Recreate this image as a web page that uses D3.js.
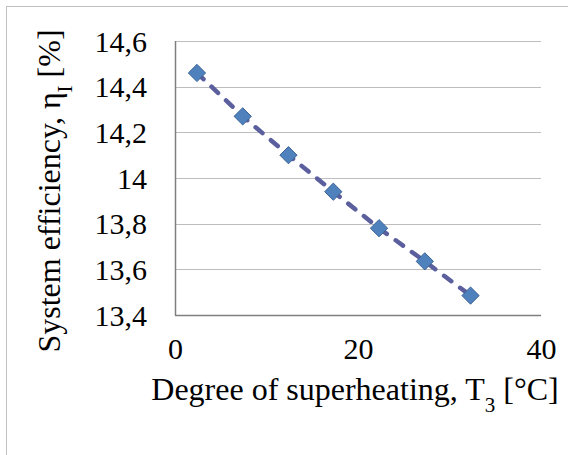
<!DOCTYPE html>
<html>
<head>
<meta charset="utf-8">
<script src="https://cdn.jsdelivr.net/npm/d3@7"></script>
<style>
  html, body { margin: 0; padding: 0; background: #fff; overflow: hidden; }
  svg { display: block; }
  svg text { font-family: "Liberation Serif", "Times New Roman", serif; fill: #000; }
</style>
</head>
<body>
<div id="chart"></div>
<script>
// data
const superheat = [2.4, 7.4, 12.4, 17.3, 22.3, 27.3, 32.3];
const efficiency = [14.46, 14.27, 14.10, 13.94, 13.78, 13.635, 13.485];
const xTicks = [0, 20, 40];
const yTicks = [13.4, 13.6, 13.8, 14.0, 14.2, 14.4, 14.6];

const width = 568, height = 455;
const margin = {top: 41, right: 27, bottom: 140, left: 175};
const innerWidth = width - margin.left - margin.right;
const innerHeight = height - margin.top - margin.bottom;
const serif = '"Liberation Serif", "Times New Roman", serif';

const svg = d3.select('#chart').append('svg')
    .attr('width', width)
    .attr('height', height);

// outer chart border (runs off the right and bottom edges)
svg.append('rect')
    .attr('x', 6.5).attr('y', 6.5)
    .attr('width', width).attr('height', height)
    .attr('fill', 'none')
    .attr('stroke', '#c0c0c0')
    .attr('stroke-width', 1);

const plotG = svg.append('g')
    .attr('transform', `translate(${margin.left}, ${margin.top})`);

const x = d3.scaleLinear().domain([0, 40]).range([0, innerWidth]);
const y = d3.scaleLinear().domain([13.4, 14.6]).range([innerHeight, 0]);

const fmt = d => d3.format('.1f')(d).replace('.0', '').replace('.', ',');

// gridlines
plotG.append('g')
    .selectAll('line')
    .data(yTicks.slice(1))
    .join('line')
        .attr('x1', 0).attr('x2', innerWidth)
        .attr('y1', d => Math.round(y(d)) + 0.5)
        .attr('y2', d => Math.round(y(d)) + 0.5)
        .attr('stroke', '#bdbdbd');

// axes
const yAxis = d3.axisLeft(y).tickValues(yTicks).tickSize(0).tickPadding(28).tickFormat(fmt);
const xAxis = d3.axisBottom(x).tickValues(xTicks).tickSize(0).tickPadding(23).tickFormat(d => d);

const gy = plotG.append('g').call(yAxis)
    .attr('font-family', serif).attr('font-size', 30);
gy.select('.domain').remove();
gy.selectAll('text').attr('dy', '0.34em');

const gx = plotG.append('g').attr('transform', `translate(0, ${innerHeight})`).call(xAxis)
    .attr('font-family', serif).attr('font-size', 30);
gx.select('.domain').remove();

// axis lines
plotG.append('line')
    .attr('x1', 0.5).attr('x2', 0.5).attr('y1', 0).attr('y2', innerHeight + 0.5)
    .attr('stroke', '#7f7f7f').attr('stroke-width', 1.5);
plotG.append('line')
    .attr('x1', 0).attr('x2', innerWidth).attr('y1', innerHeight + 0.5).attr('y2', innerHeight + 0.5)
    .attr('stroke', '#7f7f7f').attr('stroke-width', 1.5);

// dashed series line
const pts = superheat.map((v, i) => [v, efficiency[i]]);
const line = d3.line().x(d => x(d[0])).y(d => y(d[1]));
plotG.append('path')
    .datum(pts)
    .attr('d', line)
    .attr('fill', 'none')
    .attr('stroke', '#5b5f9e')
    .attr('stroke-width', 4.5)
    .attr('stroke-linecap', 'round')
    .attr('stroke-dasharray', '9,11');

// diamond markers
plotG.selectAll('.marker')
    .data(pts)
    .join('path')
        .attr('class', 'marker')
        .attr('d', d3.symbol().type(d3.symbolDiamond2).size(190))
        .attr('transform', d => `translate(${x(d[0])},${y(d[1])})`)
        .attr('fill', '#4f81bd')
        .attr('stroke', '#3d6396')
        .attr('stroke-width', 1);

// axis titles
svg.append('text')
    .attr('x', 355).attr('y', 400)
    .attr('text-anchor', 'middle')
    .attr('font-size', 32)
    .html('Degree of superheating, T<tspan baseline-shift="sub" font-size="21">3</tspan> [°C]');

svg.append('text')
    .attr('transform', 'translate(60, 191) rotate(-90)')
    .attr('text-anchor', 'middle')
    .attr('font-size', 32)
    .html('System efficiency, η<tspan baseline-shift="sub" font-size="21">I</tspan> [%]');
</script>
</body>
</html>
